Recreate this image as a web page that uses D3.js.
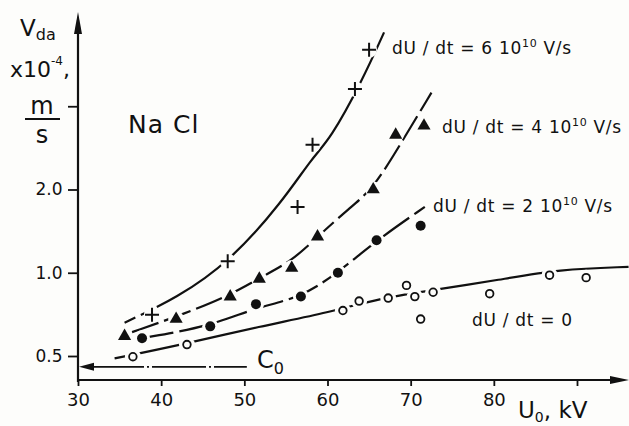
<!DOCTYPE html>
<html>
<head>
<meta charset="utf-8">
<script src="https://cdn.jsdelivr.net/npm/d3@7"></script>
<style>
  body { margin: 0; background: #fdfdfb; }
  svg { display: block; }
  text { font-family: "DejaVu Sans", sans-serif; fill: #111; }
</style>
</head>
<body>
<svg id="chart" width="629" height="426"></svg>
<script>
// measured points, U0 in kV, Vda in 1e-4 m/s
const plusU = [38.9, 48.0, 56.4, 58.2, 63.3, 65.0];
const plusV = [0.705, 1.10, 1.73, 2.9, 4.62, 6.4];
const triU = [35.6, 41.8, 48.3, 51.8, 55.7, 58.8, 65.5, 68.2, 71.6];
const triV = [0.59, 0.68, 0.82, 0.95, 1.04, 1.35, 2.0, 3.15, 3.4];
const dotU = [37.7, 45.9, 51.4, 56.8, 61.25, 65.9, 71.2];
const dotV = [0.58, 0.64, 0.77, 0.82, 1.0, 1.31, 1.48];
const ringU = [36.6, 43.1, 61.85, 63.8, 67.3, 69.5, 70.5, 71.2, 72.7, 79.5, 86.7, 91.1];
const ringV = [0.497, 0.55, 0.73, 0.79, 0.81, 0.90, 0.82, 0.68, 0.85, 0.84, 0.98, 0.96];

// fitted curves as drawn in the figure
const plusFitU = [35.6, 41.9, 48.3, 54.6, 58.2, 60.3, 64.1, 66.8];
const plusFitV = [0.66, 0.81, 1.10, 1.81, 2.62, 3.03, 4.9, 7.4];
const triFitU = [36.5, 42.5, 48.3, 51.6, 55.7, 58.8, 62.7, 65.5, 69.1, 72.5];
const triFitV = [0.61, 0.705, 0.83, 0.95, 1.10, 1.35, 1.72, 2.01, 3.03, 4.48];
const dotFitU = [37.7, 45.9, 51.4, 56.7, 61.25, 65.9, 71.7];
const dotFitV = [0.58, 0.64, 0.75, 0.81, 1.0, 1.31, 1.73];
const ringFitU = [34.4, 42.5, 51.9, 60.3, 66.3, 73.75, 80.4, 87.9, 96.2];
const ringFitV = [0.49, 0.55, 0.64, 0.72, 0.81, 0.875, 0.94, 1.03, 1.05];

const c0Value = 0.457;
const c0End = 50.3;

const xTicks = [30, 40, 50, 60, 70, 80, 90];
const xLabels = ['30', '40', '50', '60', '70', '80', ''];
const yTicks = [0.5, 1, 2, 4];
const yLabels = ['0.5', '1.0', '2.0', ''];

const svg = d3.select('#chart');
const x = d3.scaleLinear().domain([30, 90]).range([78, 577]);
const y = d3.scaleLog().base(2).domain([0.5, 8]).range([356, 23]);
const axisY = 380;

// axes
const gx = svg.append('g')
    .attr('transform', `translate(0,${axisY})`)
    .call(d3.axisBottom(x)
        .tickValues(xTicks)
        .tickSize(6)
        .tickFormat((d, i) => xLabels[i]));
gx.select('.domain').remove();
gx.selectAll('line').attr('stroke', '#111').attr('stroke-width', 1.8);
gx.selectAll('text').attr('font-size', 18).attr('dy', '0.95em').attr('fill', '#111');

const gy = svg.append('g')
    .attr('transform', `translate(${x(30)},0)`)
    .call(d3.axisLeft(y)
        .tickValues(yTicks)
        .tickSize(10)
        .tickFormat((d, i) => yLabels[i]));
gy.select('.domain').remove();
gy.selectAll('line').attr('stroke', '#111').attr('stroke-width', 1.8);
gy.selectAll('text').attr('font-size', 17).attr('dx', '-0.15em').attr('fill', '#111');

svg.append('line')
    .attr('x1', x(30)).attr('x2', 622)
    .attr('y1', axisY).attr('y2', axisY)
    .attr('stroke', '#111').attr('stroke-width', 2.2);
svg.append('line')
    .attr('x1', x(30)).attr('x2', x(30))
    .attr('y1', axisY + 2).attr('y2', 20)
    .attr('stroke', '#111').attr('stroke-width', 2.2);
svg.append('path')
    .attr('d', `M629,${axisY} L610,${axisY - 4} L610,${axisY + 4} Z`)
    .attr('fill', '#111');
svg.append('path')
    .attr('d', `M${x(30)},12 L${x(30) - 4},34 L${x(30) + 4},34 Z`)
    .attr('fill', '#111');

// C0 level line with arrow to the axis
svg.append('line')
    .attr('x1', x(30) + 12).attr('x2', x(c0End))
    .attr('y1', y(c0Value)).attr('y2', y(c0Value))
    .attr('stroke', '#111').attr('stroke-width', 1.8)
    .attr('stroke-dasharray', '54,3,2,3');
svg.append('path')
    .attr('d', `M${x(30) + 1},${y(c0Value)} L${x(30) + 16},${y(c0Value) - 4} L${x(30) + 16},${y(c0Value) + 4} Z`)
    .attr('fill', '#111');

// curves
const line = d3.line()
    .x(d => x(d[0]))
    .y(d => y(d[1]))
    .curve(d3.curveBasis);

const curves = [
    { u: plusFitU, v: plusFitV, dash: '12,6,12,6,400' },
    { u: triFitU, v: triFitV, dash: '28,6' },
    { u: dotFitU, v: dotFitV, dash: '32,6' },
    { u: ringFitU, v: ringFitV, dash: 'none' }
];

svg.selectAll('path.curve')
    .data(curves)
    .enter()
    .append('path')
    .attr('class', 'curve')
    .attr('d', c => line(d3.zip(c.u, c.v)))
    .attr('fill', 'none')
    .attr('stroke', '#111')
    .attr('stroke-width', 2.2)
    .attr('stroke-dasharray', c => c.dash);

// white gaps in the curves around each marker
const allPts = [
    ...d3.zip(plusU, plusV),
    ...d3.zip(triU, triV),
    ...d3.zip(dotU, dotV),
    ...d3.zip(ringU, ringV)
];
svg.selectAll('circle.halo')
    .data(allPts)
    .enter()
    .append('circle')
    .attr('class', 'halo')
    .attr('cx', d => x(d[0]))
    .attr('cy', d => y(d[1]))
    .attr('r', 8)
    .attr('fill', '#fdfdfb');

// markers
svg.selectAll('path.plus')
    .data(d3.zip(plusU, plusV))
    .enter()
    .append('path')
    .attr('class', 'plus')
    .attr('d', d => {
        const px = x(d[0]), py = y(d[1]);
        return `M${px - 7},${py} H${px + 7} M${px},${py - 7} V${py + 7}`;
    })
    .attr('stroke', '#111')
    .attr('stroke-width', 2);

svg.selectAll('path.tri')
    .data(d3.zip(triU, triV))
    .enter()
    .append('path')
    .attr('class', 'tri')
    .attr('transform', d => `translate(${x(d[0])},${y(d[1])})`)
    .attr('d', d3.symbol(d3.symbolTriangle, 75))
    .attr('fill', '#111');

svg.selectAll('circle.dot')
    .data(d3.zip(dotU, dotV))
    .enter()
    .append('circle')
    .attr('class', 'dot')
    .attr('cx', d => x(d[0]))
    .attr('cy', d => y(d[1]))
    .attr('r', 5)
    .attr('fill', '#111');

svg.selectAll('circle.ring')
    .data(d3.zip(ringU, ringV))
    .enter()
    .append('circle')
    .attr('class', 'ring')
    .attr('cx', d => x(d[0]))
    .attr('cy', d => y(d[1]))
    .attr('r', 3.8)
    .attr('fill', '#fdfdfb')
    .attr('stroke', '#111')
    .attr('stroke-width', 1.8);

// series labels
const rateLabels = [
    { x: 392, y: 54, k: '6' },
    { x: 442, y: 133, k: '4' },
    { x: 433, y: 212, k: '2' }
];
rateLabels.forEach(l => {
    const t = svg.append('text')
        .attr('x', l.x).attr('y', l.y)
        .attr('font-size', 17)
        .attr('letter-spacing', 0.7);
    t.append('tspan').text(`dU / dt = ${l.k}  10`);
    t.append('tspan').attr('font-size', 11).attr('dy', -7).text('10');
    t.append('tspan').attr('dy', 7).text('  V/s');
});
svg.append('text')
    .attr('x', 472).attr('y', 326)
    .attr('font-size', 17)
    .attr('letter-spacing', 0.7)
    .text('dU / dt = 0');

svg.append('text')
    .attr('x', 128).attr('y', 133)
    .attr('font-size', 25)
    .attr('letter-spacing', 1)
    .text('Na Cl');

// C0 label
const c0 = svg.append('text').attr('x', 257).attr('y', 368).attr('font-size', 24);
c0.append('tspan').text('C');
c0.append('tspan').attr('font-size', 16).attr('dy', 6).text('0');

// y axis title
const vt = svg.append('text').attr('x', 20).attr('y', 36).attr('font-size', 23);
vt.append('tspan').text('V');
vt.append('tspan').attr('font-size', 16).attr('dy', 4).text('da');

const xt = svg.append('text').attr('x', 10).attr('y', 77).attr('font-size', 22);
xt.append('tspan').text('x10');
xt.append('tspan').attr('font-size', 12).attr('dy', -12).text('-4');
xt.append('tspan').attr('dy', 12).text(',');

svg.append('text').attr('x', 42).attr('y', 114).attr('font-size', 24)
    .attr('text-anchor', 'middle').text('m');
svg.append('line').attr('x1', 25).attr('x2', 60).attr('y1', 119).attr('y2', 119)
    .attr('stroke', '#111').attr('stroke-width', 2.2);
svg.append('text').attr('x', 42).attr('y', 143).attr('font-size', 24)
    .attr('text-anchor', 'middle').text('s');

// x axis title
const ut = svg.append('text').attr('x', 518).attr('y', 418).attr('font-size', 23);
ut.append('tspan').text('U');
ut.append('tspan').attr('font-size', 14).attr('dy', 4).text('0');
ut.append('tspan').attr('dy', -4).text(', kV');
</script>
</body>
</html>
